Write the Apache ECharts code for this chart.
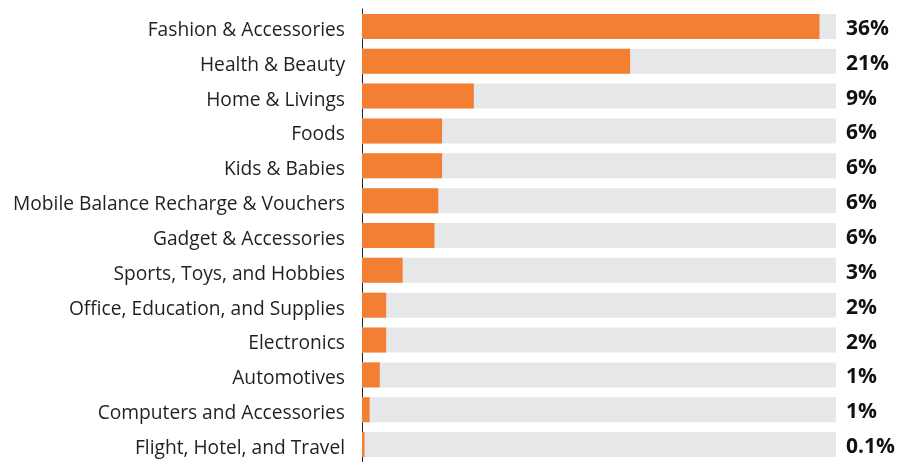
<!DOCTYPE html>
<html>
<head>
<meta charset="utf-8">
<script src="https://cdn.jsdelivr.net/npm/echarts@6/dist/echarts.min.js"></script>
<style>
  html, body { margin: 0; padding: 0; background: #fff; }
  #chart { width: 898px; height: 462px; }
</style>
</head>
<body>
<div id="chart"></div>
<script>
// categories, top to bottom
var categories = ['Fashion & Accessories', 'Health & Beauty', 'Home & Livings', 'Foods', 'Kids & Babies',
    'Mobile Balance Recharge & Vouchers', 'Gadget & Accessories', 'Sports, Toys, and Hobbies',
    'Office, Education, and Supplies', 'Electronics', 'Automotives', 'Computers and Accessories',
    'Flight, Hotel, and Travel'];
// bar lengths as drawn (percent)
var values = [36, 21.1, 8.8, 6.3, 6.3, 6.0, 5.7, 3.2, 1.9, 1.9, 1.4, 0.6, 0.2];
// printed labels on the right
var valueLabels = ['36%', '21%', '9%', '6%', '6%', '6%', '6%', '3%', '2%', '2%', '1%', '1%', '0.1%'];

var myChart = echarts.init(document.getElementById('chart'));

var option = {
    animation: false,
    grid: {
        left: 362,
        right: 62,
        top: 9,
        bottom: 0
    },
    xAxis: {
        type: 'value',
        min: 0,
        max: 37.3,
        show: false
    },
    yAxis: [{
        type: 'category',
        inverse: true,
        data: categories,
        axisLine: { show: true, lineStyle: { color: '#231f20', width: 1 } },
        axisTick: { show: false },
        axisLabel: {
            margin: 17,
            formatter: '{a|{value}}',
            rich: {
                a: {
                    fontFamily: 'Open Sans',
                    fontSize: 19.2,
                    color: '#231f20',
                    padding: [8, 0, 0, 0]
                }
            }
        }
    }, {
        type: 'category',
        inverse: true,
        position: 'right',
        data: valueLabels,
        axisLine: { show: false },
        axisTick: { show: false },
        axisLabel: {
            margin: 10,
            formatter: '{b|{value}}',
            rich: {
                b: {
                    fontFamily: 'Open Sans',
                    fontWeight: 'bold',
                    fontSize: 21,
                    color: '#111',
                    padding: [5, 0, 0, 0]
                }
            }
        }
    }],
    series: [{
        type: 'bar',
        data: values,
        barWidth: 25,
        showBackground: true,
        backgroundStyle: { color: '#e6e7e8' },
        itemStyle: { color: '#f37f32' }
    }]
};

myChart.setOption(option);
</script>
</body>
</html>
